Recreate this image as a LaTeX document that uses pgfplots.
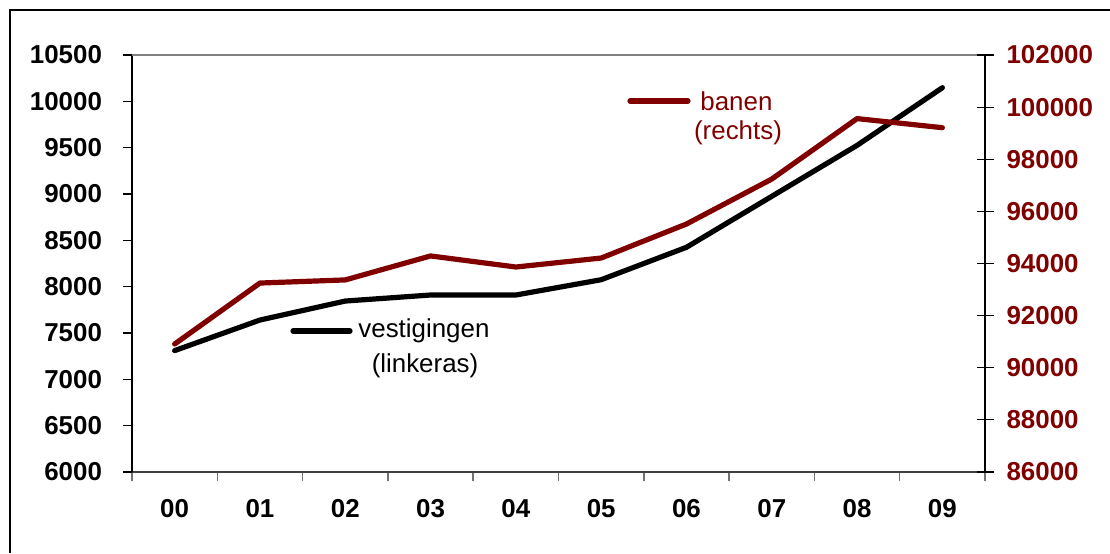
\documentclass[border=0pt]{standalone}
\usepackage{fontspec}
\setmainfont{Liberation Sans}
\usepackage{pgfplots}
\pgfplotsset{compat=1.18}
\definecolor{cBanen}{HTML}{800000}
\newcommand{\tickfont}{\fontsize{13}{15}\selectfont\bfseries}
\newcommand{\notefont}{\fontsize{13}{15}\selectfont}

\begin{document}
\begin{tikzpicture}[x=1bp,y=1bp]
\path[use as bounding box] (0,0) rectangle (555,276.5);
% outer frame (cut off at right and bottom)
\draw[black, line width=0.75bp] (5,0) -- (5,271.5) -- (555,271.5);

% left axis: vestigingen
\begin{axis}[
  scale only axis,
  width=426.5bp, height=208.5bp,
  at={(66bp,40.5bp)}, anchor=south west,
  xmin=-0.5, xmax=9.5, ymin=6000, ymax=10500,
  axis x line*=bottom, axis y line*=left,
  x axis line style={black!75, line width=1bp},
  y axis line style={black, line width=0.75bp},
  tick align=outside,
  xtick={-0.5,0.5,...,9.5}, xticklabels={},
  major tick length=4.5bp,
  xtick style={black!55, line width=0.75bp},
  ytick style={black, line width=0.6bp},
  extra x ticks={0,1,2,3,4,5,6,7,8,9},
  extra x tick labels={00,01,02,03,04,05,06,07,08,09},
  extra x tick style={major tick length=0pt,
    tick label style={font=\tickfont, yshift=-10bp}},
  scaled y ticks=false,
  ytick={6000,6500,7000,7500,8000,8500,9000,9500,10000,10500},
  yticklabels={6000,6500,7000,7500,8000,8500,9000,9500,10000,10500},
  yticklabel style={font=\tickfont, xshift=-7bp},
  clip=false,
]
\draw[black!50, line width=0.75bp] (rel axis cs:0,1) -- (rel axis cs:1,1);
\addplot[black, line width=2.6bp, line cap=round, line join=round] coordinates {
  (0,7310) (1,7640) (2,7845) (3,7910) (4,7910) (5,8075) (6,8425) (7,8975) (8,9525) (9,10147)
};
\end{axis}

% right axis: banen
\begin{axis}[
  scale only axis,
  width=426.5bp, height=208.5bp,
  at={(66bp,40.5bp)}, anchor=south west,
  xmin=-0.5, xmax=9.5, ymin=86000, ymax=102000,
  axis x line=none, axis y line*=right,
  y axis line style={black, line width=0.75bp},
  tick align=center,
  major tick length=8.5bp,
  ytick style={black, line width=0.6bp},
  scaled y ticks=false,
  ytick={86000,88000,90000,92000,94000,96000,98000,100000,102000},
  yticklabels={86000,88000,90000,92000,94000,96000,98000,100000,102000},
  yticklabel style={font=\tickfont, text=cBanen, xshift=3bp},
  clip=false,
]
\addplot[cBanen, line width=2.6bp, line cap=round, line join=round] coordinates {
  (0,90910) (1,93250) (2,93370) (3,94290) (4,93865) (5,94210) (6,95515) (7,97240) (8,99560) (9,99210)
};
\end{axis}

% in-plot labels
\draw[cBanen, line width=2.6bp, line cap=round] (315,226) -- (344,226);
\node[anchor=west, text=cBanen, font=\notefont, inner sep=0pt] at (350,226) {banen};
\node[text=cBanen, font=\notefont, inner sep=0pt] at (369,210) {(rechts)};
\draw[black, line width=2.6bp, line cap=round] (146.5,111) -- (175,111);
\node[anchor=west, font=\notefont, inner sep=0pt] at (179,111) {vestigingen};
\node[font=\notefont, inner sep=0pt] at (212.5,93.5) {(linkeras)};
\end{tikzpicture}
\end{document}
